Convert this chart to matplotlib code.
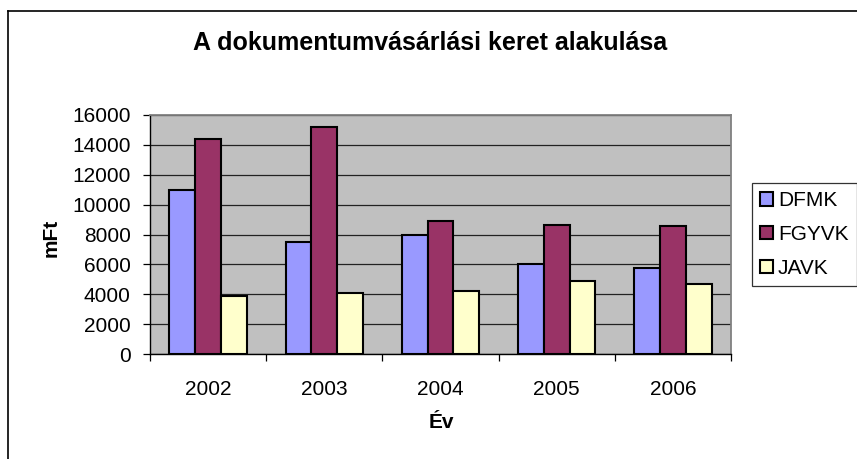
"""Excel-style clustered bar chart: A dokumentumvásárlási keret alakulása."""

import matplotlib

matplotlib.use("Agg")
import matplotlib.pyplot as plt
import numpy as np
from matplotlib.lines import Line2D
from matplotlib.patches import Patch

plt.rcParams["font.family"] = ["Liberation Sans", "DejaVu Sans"]

# Data (mFt).
years = ["2002", "2003", "2004", "2005", "2006"]
series_names = ["DFMK", "FGYVK", "JAVK"]
dfmk = [10950, 7500, 7950, 6000, 5750]
fgyvk = [14400, 15200, 8930, 8650, 8550]
javk = [3900, 4100, 4200, 4900, 4680]
y_ticks = [0, 2000, 4000, 6000, 8000, 10000, 12000, 14000, 16000]

# Excel 97 default palette.
colors = ["#9999FF", "#993366", "#FFFFCC"]

W, H, DPI = 857, 459, 100
fig = plt.figure(figsize=(W / DPI, H / DPI), dpi=DPI)
fig.patch.set_facecolor("white")

# Plot area, in pixels: x 150..731, y 115..354
ax = fig.add_axes([150 / W, 1 - 354 / H, (731 - 150) / W, (354 - 115) / H])
ax.set_facecolor("#C0C0C0")

x = np.arange(len(years))
bar_w = 1 / 4.5  # gap width 150%
for i, (name, vals) in enumerate(zip(series_names, [dfmk, fgyvk, javk])):
    ax.bar(x + (i - 1) * bar_w, vals, width=bar_w, color=colors[i],
           edgecolor="black", linewidth=1.5, zorder=3, label=name)

ax.set_xlim(-0.5, len(years) - 0.5)
ax.set_ylim(0, 16000)
ax.set_yticks(y_ticks)
ax.set_yticklabels([str(v) for v in y_ticks], fontsize=15)
ax.yaxis.grid(True, color="#222222", linewidth=0.9, zorder=1)
ax.set_axisbelow(True)

ax.set_xticks(x)
ax.set_xticklabels(years, fontsize=15)
ax.tick_params(axis="x", which="major", length=0, pad=19)
ax.set_xticks(np.arange(-0.5, len(years)), minor=True)
ax.tick_params(axis="x", which="minor", length=5, width=0.9, color="black",
               direction="out")
ax.tick_params(axis="y", length=5, width=0.9, color="black", pad=9)

for side in ("top", "right"):
    ax.spines[side].set_color("#808080")
    ax.spines[side].set_linewidth(1.3)
for side in ("left", "bottom"):
    ax.spines[side].set_color("black")
    ax.spines[side].set_linewidth(1.0)

# Axis titles and chart title
fig.text(441 / W, 1 - 423 / H, "Év", fontsize=15, fontweight="bold",
         ha="center", va="center")
fig.text(51 / W, 1 - 238 / H, "mFt", fontsize=15, fontweight="bold",
         rotation=90, ha="center", va="center")
fig.text(430 / W, 1 - 43 / H, "A dokumentumvásárlási keret alakulása",
         fontsize=18, fontweight="bold", ha="center", va="center")

# Legend
handles = [Patch(facecolor=c, edgecolor="black", linewidth=1.5) for c in colors]
leg = fig.legend(handles, series_names, loc="upper left",
                 bbox_to_anchor=(752 / W, 1 - 183 / H), borderaxespad=0,
                 fontsize=15, frameon=True, fancybox=False, shadow=False,
                 handlelength=0.6, handleheight=0.6, handletextpad=0.25,
                 labelspacing=0.7, borderpad=0.4)
leg.get_frame().set_edgecolor("black")
leg.get_frame().set_linewidth(0.9)

# Chart frame: only top and left edges fall inside the image
fig.add_artist(Line2D([8 / W, 1.0], [1 - 11 / H, 1 - 11 / H],
                      transform=fig.transFigure, color="black", linewidth=1.2))
fig.add_artist(Line2D([8 / W, 8 / W], [1 - 11 / H, 0.0],
                      transform=fig.transFigure, color="black", linewidth=1.2))

fig.savefig("out.png", dpi=DPI)
